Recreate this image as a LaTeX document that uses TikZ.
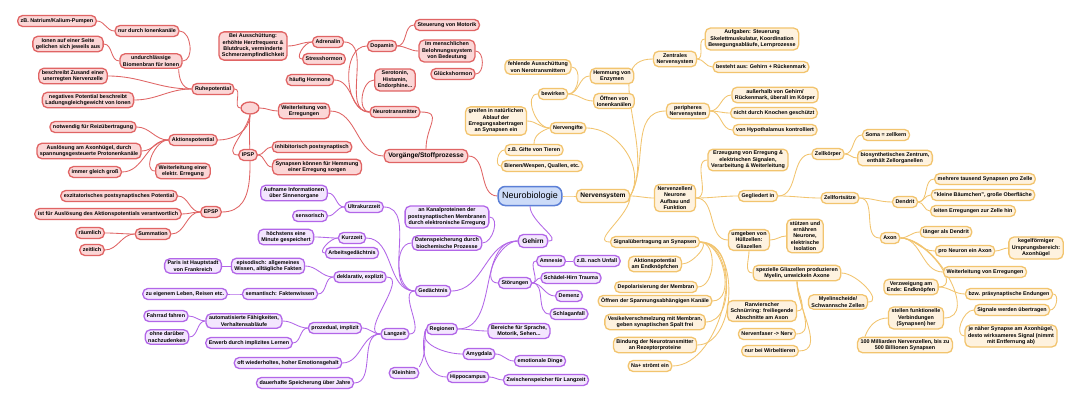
\documentclass[tikz,border=0pt]{standalone}
\usepackage{fontspec}
\setmainfont{Liberation Sans}
\usetikzlibrary{shapes.geometric,backgrounds}

\definecolor{redline}{HTML}{E06464}
\definecolor{redfill}{HTML}{FBD6D6}
\definecolor{orgline}{HTML}{F2C46E}
\definecolor{orgfill}{HTML}{FEF2DF}
\definecolor{purline}{HTML}{B266E8}
\definecolor{purfill}{HTML}{F3E6FE}
\definecolor{rootline}{HTML}{5B7FD6}
\definecolor{rootfill}{HTML}{CCDBF8}

\tikzset{
  box/.style={rounded corners=5pt, line width=1.3pt, align=center,
              inner xsep=3pt, inner ysep=2pt, minimum height=11pt,
              font=\fontsize{5.4}{6.4}\selectfont\bfseries},
  bigbox/.style={box, minimum height=13pt, inner xsep=4pt,
              font=\fontsize{6.6}{7.6}\selectfont\bfseries},
  rbox/.style={box, draw=redline, fill=redfill},
  obox/.style={box, draw=orgline, fill=orgfill},
  pbox/.style={box, draw=purline, fill=purfill},
  rl/.style={draw=redline, line width=0.85pt},
  ol/.style={draw=orgline, line width=0.85pt},
  pl/.style={draw=purline, line width=0.85pt}
}

\begin{document}
\begin{tikzpicture}[x=1pt,y=-1pt]
\useasboundingbox (0,0) rectangle (1080,404);

\node [draw=rootline, fill=rootfill, line width=1.5pt, rounded corners=7pt,
       inner xsep=4pt, minimum height=19pt, font=\fontsize{9}{10}\selectfont]
      (root) at (530,196) {Neurobiologie};

% red
\node [rbox, bigbox] (vorg) at (426,156) {Vorgänge/Stoffprozesse};
\node [rbox] (ntrans) at (395,112) {Neurotransmitter};
\node [rbox] (adren) at (328,42) {Adrenalin};
\node [rbox] (ausschuett) at (253,46) {Bei Ausschüttung:\\erhöhte Herzfrequenz \&\\Blutdruck, verminderte\\Schmerzempfindlichkeit};
\node [rbox] (stress) at (324,59) {Stresshormon};
\node [rbox] (dopa) at (382,46) {Dopamin};
\node [rbox] (motorik) at (447,25) {Steuerung von Motorik};
\node [rbox] (beloh) at (447,51) {Im menschlichen\\Belohnungssystem\\von Bedeutung};
\node [rbox] (glueck) at (453,74) {Glückshormon};
\node [rbox] (sero) at (395,80) {Serotonin,\\Histamin,\\Endorphine...};
\node [rbox] (hormone) at (310,80) {häufig Hormone};
\node [rbox] (weiter) at (304,111) {Weiterleitung von\\Erregungen};
\node [ellipse, draw=redline, fill=redfill, line width=1.3pt,
       minimum width=18pt, minimum height=12pt] (hub) at (250,108) {};
\node [rbox] (ruhe) at (213,89) {Ruhepotential};
\node [rbox] (undurch) at (151,61) {undurchlässige\\Biomenbran für Ionen};
\node [rbox] (nurdurch) at (147,31) {nur durch Ionenkanäle};
\node [rbox] (pumpen) at (57,21) {zB. Natrium/Kalium-Pumpen};
\node [rbox] (ionen) at (68,44) {Ionen auf einer Seite\\gelichen sich jeweils aus};
\node [rbox] (zustand) at (73,76) {beschreibt Zusand einer\\unerregten Nervenzelle};
\node [rbox] (negativ) at (88,100) {negatives Potential beschreibt\\Ladungsgleichgewicht von Ionen};
\node [rbox] (aktion) at (193,140) {Aktionspotential};
\node [rbox] (notwendig) at (93,127) {notwendig für Reizübertragung};
\node [rbox] (ausloes) at (89,151) {Auslösung am Axonhügel, durch\\spannungsgesteuerte Protonenkanäle};
\node [rbox] (gleich) at (95,172) {immer gleich groß};
\node [rbox] (elektr) at (183,171) {Weiterleitung einer\\elektr. Erregung};
\node [rbox] (ipsp) at (248,155) {IPSP};
\node [rbox] (inhib) at (312,147) {inhibitorisch postsynaptisch};
\node [rbox] (hemmung) at (317,167) {Synapsen können für Hemmung\\einer Erregung sorgen};
\node [rbox] (epsp) at (211,212) {EPSP};
\node [rbox] (exzit) at (119,196) {exzitatorisches postsynaptisches Potential};
\node [rbox] (verantw) at (108,214) {ist für Auslösung des Aktionspotentials verantwortlich};
\node [rbox] (summ) at (153,234) {Summation};
\node [rbox] (raeum) at (90,233) {räumlich};
\node [rbox] (zeit) at (92,250) {zeitlich};

% purple
\node [pbox, bigbox] (gehirn) at (533,241) {Gehirn};
\node [pbox] (gedaecht) at (433,291) {Gedächtnis};
\node [pbox] (ultra) at (364,207) {Ultrakurzzeit};
\node [pbox] (aufn) at (294,193) {Aufname Informationen\\über Sinnenorgane};
\node [pbox] (sens) at (310,216) {sensorisch};
\node [pbox] (kurz) at (352,238) {Kurzzeit};
\node [pbox] (minute) at (286,237) {höchstens eine\\Minute gespeichert};
\node [pbox] (arbeit) at (352,253) {Arbeitsgedächtnis};
\node [pbox] (kanal) at (447,217) {an Kanalproteinen der\\postsynaptischen Membranen\\durch elektronische Erregung};
\node [pbox] (daten) at (447,243) {Datenspeicherung durch\\biochemische Prozesse};
\node [pbox] (lang) at (395,334) {Langzeit};
\node [pbox] (dekl) at (360,277) {deklarativ, explizit};
\node [pbox] (episod) at (268,266) {episodisch: allgemeines\\Wissen, alltägliche Fakten};
\node [pbox] (paris) at (193,266) {Paris ist Hauptstadt\\von Frankreich};
\node [pbox] (seman) at (280,294) {semantisch: Faktenwissen};
\node [pbox] (leben) at (185,294) {zu eigenem Leben, Reisen etc.};
\node [pbox] (proz) at (335,328) {prozedual, implizit};
\node [pbox] (auto) at (244,321) {automatisierte Fähigkeiten,\\Verhaltensabläufe};
\node [pbox] (fahrrad) at (166,316) {Fahrrad fahren};
\node [pbox] (ohne) at (167,337) {ohne darüber\\nachzudenken};
\node [pbox] (erwerb) at (249,343) {Erwerb durch implizites Lernen};
\node [pbox] (oft) at (288,363) {oft wiederholtes, hoher Emotionsgehalt};
\node [pbox] (dauer) at (305,383) {dauerhafte Speicherung über Jahre};
\node [pbox] (stoer) at (515,283) {Störungen};
\node [pbox] (amnes) at (551,261) {Amnesie};
\node [pbox] (unfall) at (597,261) {z.B. nach Unfall};
\node [pbox] (trauma) at (571,278) {Schädel-Hirn Trauma};
\node [pbox] (demenz) at (569,296) {Demenz};
\node [pbox] (schlag) at (569,314) {Schlaganfall};
\node [pbox] (region) at (442,329) {Regionen};
\node [pbox] (bereich) at (519,331) {Bereiche für Sprache,\\Motorik, Sehen...};
\node [pbox] (amyg) at (479,354) {Amygdala};
\node [pbox] (emot) at (540,361) {emotionale Dinge};
\node [pbox] (hippo) at (468,377) {Hippocampus};
\node [pbox] (zwischen) at (546,380) {Zwischenspeicher für Langzeit};
\node [pbox] (klein) at (404,373) {Kleinhirn};

% orange
\node [obox, bigbox] (nerven) at (603,196) {Nervensystem};
\node [obox] (gifte) at (568,128) {Nervengifte};
\node [obox] (bewirk) at (553,94) {bewirken};
\node [obox] (fehl) at (538,67) {fehlende Ausschüttung\\von Nerotransmittern};
\node [obox] (enzym) at (612,76) {Hemmung von\\Enzymen};
\node [obox] (oeffn) at (614,101) {Öffnen von\\Ionenkanälen};
\node [obox] (greif) at (496,121) {greifen in natürlichen\\Ablauf der\\Erregungsabertragen\\an Synapsen ein};
\node [obox] (tiere) at (534,150) {z.B. Gifte von Tieren};
\node [obox] (bienen) at (542,166) {Bienen/Wespen, Quallen, etc.};
\node [obox] (zns) at (675,59) {Zentrales\\Nervensystem};
\node [obox] (aufg) at (752,39) {Aufgaben: Steuerung\\Skelettmuskulatur, Koordination\\Bewegungsabläufe, Lernprozesse};
\node [obox] (besteht) at (761,67) {besteht aus: Gehirn + Rückenmark};
\node [obox] (pns) at (688,111) {peripheres\\Nervensystem};
\node [obox] (ausserh) at (775,95) {außerhalb von Gehirn/\\Rückenmark, überall im Körper};
\node [obox] (knochen) at (774,113) {nicht durch Knochen geschützt};
\node [obox] (hypo) at (775,130) {von Hypothalamus kontrolliert};
\node [obox] (neurone) at (675,198) {Nervenzellen/\\Neurone\\Aufbau und\\Funktion};
\node [obox] (erzeug) at (748,160) {Erzeugung von Erregung \&\\elektrischen Signalen,\\Verarbeitung \& Weiterleitung};
\node [obox] (geglied) at (758,196) {Gegliedert in};
\node [obox] (koerper) at (828,154) {Zellkörper};
\node [obox] (soma) at (886,135) {Soma = zellkern};
\node [obox] (biosyn) at (895,158) {biosynthetisches Zentrum,\\enthält Zellorganellen};
\node [obox] (fortsatz) at (840,198) {Zellfortsätze};
\node [obox] (dendrit) at (905,202) {Dendrit};
\node [obox] (tausend) at (985,179) {mehrere tausend Synapsen pro Zelle};
\node [obox] (baeum) at (983,195) {"kleine Bäumchen", große Oberfläche};
\node [obox] (leiten) at (973,211) {leiten Erregungen zur Zelle hin};
\node [obox] (axon) at (890,238) {Axon};
\node [obox] (laenger) at (946,232) {länger als Dendrit};
\node [obox] (proneuron) at (965,251) {pro Neuron ein Axon};
\node [obox] (kegel) at (1036,248) {kegelförmiger\\Ursprungsbereich:\\Axonhügel};
\node [obox] (weitaxon) at (985,272) {Weiterleitung von Erregungen};
\node [obox] (verzw) at (911,287) {Verzweigung am\\Ende: Endknöpfen};
\node [obox] (praesyn) at (1009,294) {bzw. präsynaptische Endungen};
\node [obox] (signale) at (1012,310) {Signale werden übertragen};
\node [obox] (naeher) at (1011,336) {je näher Synapse am Axonhügel,\\desto wirksameres Signal (nimmt\\mit Entfernung ab)};
\node [obox] (funkt) at (916,318) {stellen funktionelle\\Verbindungen\\(Synapsen) her};
\node [obox] (mrd) at (905,345) {100 Milliarden Nervenzellen, bis zu\\500 Billionen Synapsen};
\node [obox] (umgeb) at (749,240) {umgeben von\\Hüllzellen:\\Gliazellen};
\node [obox] (stuetz) at (805,236) {stützen und\\ernähren\\Neurone,\\elektrische\\Isolation};
\node [obox] (spez) at (797,273) {spezielle Gliazellen produzieren\\Myelin, umwickeln Axone};
\node [obox] (myelin) at (838,302) {Myelinscheide/\\Schwannsche Zellen};
\node [obox] (ranvier) at (762,311) {Ranvierscher\\Schnürring: freiliegende\\Abschnitte am Axon};
\node [obox] (faser) at (767,334) {Nervenfaser -> Nerv};
\node [obox] (wirbel) at (770,351) {nur bei Wirbeltieren};
\node [obox] (synap) at (655,242) {Signalübertragung an Synapsen};
\node [obox] (endkn) at (655,264) {Aktionspotential\\am Endknöpfchen};
\node [obox] (depol) at (656,287) {Depolarisierung der Membran};
\node [obox] (spann) at (655,301) {Öffnen der Spannungsabhängigen Kanäle};
\node [obox] (vesikel) at (655,322) {Vesikelverschmelzung mit Membran,\\geben synaptischen Spalt frei};
\node [obox] (bindung) at (655,345) {Bindung der Neurotransmitter\\an Rezeptorproteine};
\node [obox] (natrium) at (650,366) {Na+ strömt ein};

\begin{scope}[on background layer]
\fill[white] (0,0) rectangle (1080,404);

% red links
\draw[rl] (root.west) to[out=180,in=0] (vorg.east);
\draw[rl] (vorg.west) to[out=180,in=0] (weiter.east);
\draw[rl] (vorg.north) to[out=90,in=0,looseness=1.6] (ntrans.east);
\draw[rl] (weiter.west) to[out=180,in=0] (hub.east);
\draw[rl] (hub.west) to[out=180,in=0] (ruhe.east);
\draw[rl] (hub.south) to[out=-90,in=0] (aktion.east);
\draw[rl] (hub.south) to[out=-100,in=180] (ipsp.west);
\draw[rl] (hub.south) to[out=-95,in=0] (epsp.east);
\foreach \c in {adren,hormone}
  \draw[rl] (ntrans.west) to[out=180,in=0] (\c.east);
\foreach \c in {dopa,sero}
  \draw[rl] (ntrans.west) to[out=180,in=180] (\c.west);
\draw[rl] (adren.west) to[out=180,in=0] (ausschuett.east);
\draw[rl] (adren.west) to[out=180,in=180] (stress.west);
\foreach \c in {motorik,beloh}
  \draw[rl] (dopa.east) to[out=0,in=180] (\c.west);
\draw[rl] (beloh.east) to[out=0,in=0] (glueck.east);
\foreach \c in {zustand,negativ}
  \draw[rl] (ruhe.west) to[out=180,in=0] (\c.east);
\draw[rl] (ruhe.west) to[out=180,in=-90] ([xshift=-4pt]undurch.south east);
\draw[rl] (undurch.west) to[out=180,in=0] (ionen.east);
\draw[rl] (undurch.east) to[out=0,in=0] (nurdurch.east);
\draw[rl] (nurdurch.west) to[out=180,in=0] (pumpen.east);
\foreach \c in {notwendig,ausloes,gleich}
  \draw[rl] (aktion.west) to[out=180,in=0] (\c.east);
\draw[rl] (aktion.west) to[out=180,in=180] (elektr.west);
\foreach \c in {inhib,hemmung}
  \draw[rl] (ipsp.east) to[out=0,in=180] (\c.west);
\foreach \c in {exzit,verantw,summ}
  \draw[rl] (epsp.west) to[out=180,in=0] (\c.east);
\foreach \c in {raeum,zeit}
  \draw[rl] (summ.west) to[out=180,in=0] (\c.east);

% purple links
\draw[pl] (root.south) to[out=-90,in=0] (gehirn.east);
\foreach \c in {gedaecht,region}
  \draw[pl] (gehirn.west) to[out=180,in=0] (\c.east);
\draw[pl] (gehirn.west) to[out=180,in=180] (stoer.west);
\draw[pl] (stoer.east) to[out=0,in=180] (amnes.west);
\foreach \c in {trauma,demenz,schlag}
  \draw[pl] (stoer.east) to[out=0,in=180] (\c.west);
\draw[pl] (amnes.east) to[out=0,in=180] (unfall.west);
\draw[pl] (region.east) to[out=0,in=180] (bereich.west);
\draw[pl] (region.west) to[out=240,in=180] (amyg.west);
\draw[pl] (region.west) to[out=250,in=180] (hippo.west);
\draw[pl] (region.west) to[out=260,in=60] (klein.north east);
\draw[pl] (amyg.east) to[out=0,in=180] (emot.west);
\draw[pl] (hippo.east) to[out=0,in=180] (zwischen.west);
\foreach \c in {ultra,kurz,lang}
  \draw[pl] (gedaecht.west) to[out=180,in=0] (\c.east);
\draw[pl] (gedaecht.west) to[out=180,in=180] (daten.west);
\draw[pl] (daten.east) to[out=0,in=0] (kanal.east);
\foreach \c in {aufn,sens}
  \draw[pl] (ultra.west) to[out=180,in=0] (\c.east);
\draw[pl] (kurz.west) to[out=180,in=0] (minute.east);
\draw[pl] (kurz.west) to[out=180,in=180] (arbeit.west);
\foreach \c in {dekl,proz,oft,dauer}
  \draw[pl] (lang.west) to[out=180,in=0] (\c.east);
\foreach \c in {episod,seman}
  \draw[pl] (dekl.west) to[out=180,in=0] (\c.east);
\draw[pl] (episod.west) to[out=180,in=0] (paris.east);
\draw[pl] (seman.west) to[out=180,in=0] (leben.east);
\foreach \c in {auto,erwerb}
  \draw[pl] (proz.west) to[out=180,in=0] (\c.east);
\foreach \c in {fahrrad,ohne}
  \draw[pl] (auto.west) to[out=180,in=0] (\c.east);

% orange links
\draw[ol] (root.east) to[out=0,in=180] (nerven.west);
\draw[ol] (nerven.east) to[out=0,in=180] (neurone.west);
\draw[ol] (nerven.east) to[out=60,in=0] (gifte.east);
\foreach \c in {zns,pns}
  \draw[ol] (nerven.east) to[out=60,in=180] (\c.west);
\draw[ol] (nerven.east) to[out=-90,in=180] (synap.west);
\draw[ol] (gifte.west) to[out=180,in=180] (bewirk.west);
\draw[ol] (gifte.west) to[out=180,in=0] (greif.east);
\draw[ol] (gifte.west) to[out=200,in=90] (tiere.north);
\draw[ol] (tiere.west) to[out=180,in=180] (bienen.west);
\foreach \c in {enzym,oeffn}
  \draw[ol] (bewirk.east) to[out=0,in=180] (\c.west);
\draw[ol] (bewirk.east) to[out=0,in=0] (fehl.east);
\foreach \c in {aufg,besteht}
  \draw[ol] (zns.east) to[out=0,in=180] (\c.west);
\foreach \c in {ausserh,knochen,hypo}
  \draw[ol] (pns.east) to[out=0,in=180] (\c.west);
\foreach \c in {erzeug,geglied,umgeb}
  \draw[ol] (neurone.east) to[out=0,in=180] (\c.west);
\foreach \c in {koerper,fortsatz}
  \draw[ol] (geglied.east) to[out=0,in=180] (\c.west);
\foreach \c in {soma,biosyn}
  \draw[ol] (koerper.east) to[out=0,in=180] (\c.west);
\foreach \c in {dendrit,axon}
  \draw[ol] (fortsatz.east) to[out=0,in=180] (\c.west);
\foreach \c in {tausend,baeum,leiten}
  \draw[ol] (dendrit.east) to[out=0,in=180] (\c.west);
\foreach \c in {laenger,proneuron,weitaxon}
  \draw[ol] (axon.east) to[out=0,in=180] (\c.west);
\foreach \c in {verzw,funkt}
  \draw[ol] (axon.east) to[out=0,in=0] (\c.east);
\draw[ol] (proneuron.east) to[out=0,in=180] (kegel.west);
\draw[ol] (verzw.east) to[out=0,in=180] (praesyn.west);
\draw[ol] (praesyn.east) to[out=0,in=0] (signale.east);
\draw[ol] (signale.west) to[out=180,in=180] (naeher.west);
\draw[ol] (funkt.west) to[out=180,in=70] ([xshift=8pt]mrd.north west);
\draw[ol] (umgeb.east) to[out=0,in=180] (stuetz.west);
\draw[ol] (umgeb.south) to[out=-90,in=180] (spez.west);
\draw[ol] (spez.east) to[out=0,in=0] (myelin.east);
\foreach \c in {ranvier,faser,wirbel}
  \draw[ol] (spez.south) to[out=-90,in=0] (\c.east);
\foreach \c in {endkn,depol,spann,vesikel,bindung,natrium}
  \draw[ol] (synap.east) to[out=0,in=0] (\c.east);
\end{scope}
\end{tikzpicture}
\end{document}
